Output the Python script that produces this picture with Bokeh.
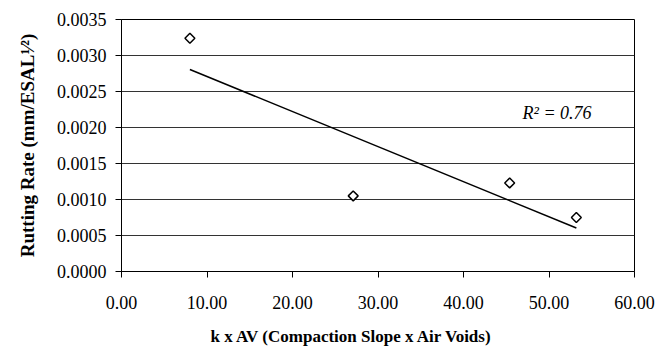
import numpy as np
from bokeh.plotting import figure
from bokeh.models import Range1d, Label, NumeralTickFormatter, FixedTicker, Title
from bokeh.embed import file_html
from bokeh.resources import INLINE

# Compaction slope x air voids vs. rutting rate
k_av = [8.0, 27.1, 45.4, 53.2]
rut_rate = [0.00324, 0.00105, 0.00123, 0.00075]

x_ticks = [0, 10, 20, 30, 40, 50, 60]
y_ticks = [0.0, 0.0005, 0.0010, 0.0015, 0.0020, 0.0025, 0.0030, 0.0035]

FONT = "Times New Roman"

p = figure(width=669, height=358, output_backend="svg", toolbar_location=None,
           x_range=Range1d(0, 60), y_range=Range1d(0, 0.0035),
           min_border_left=121, min_border_right=35, min_border_top=19,
           min_border_bottom=85)
p.outline_line_color = "black"
p.outline_line_width = 1

# axes
p.xaxis.ticker = FixedTicker(ticks=x_ticks)
p.yaxis.ticker = FixedTicker(ticks=y_ticks)
p.xaxis.formatter = NumeralTickFormatter(format="0.00")
p.yaxis.formatter = NumeralTickFormatter(format="0.0000")
for ax in (p.xaxis, p.yaxis):
    ax.axis_line_color = "black"
    ax.major_tick_line_color = "black"
    ax.major_tick_in = 0
    ax.major_tick_out = 6
    ax.minor_tick_line_color = None
    ax.major_label_text_font = FONT
    ax.major_label_text_font_size = "18px"
    ax.major_label_text_color = "black"
    ax.axis_label_text_font = FONT
    ax.axis_label_text_font_style = "bold"
    ax.axis_label_text_color = "black"

p.xaxis.major_label_standoff = 18
p.yaxis.major_label_standoff = 9
p.yaxis.axis_label = "Rutting Rate (mm/ESAL\u00b9\u2044\u00b2)"
p.yaxis.axis_label_text_font_size = "19px"
p.yaxis.axis_label_standoff = 16

# x-axis title, set slightly left of the frame centre
p.add_layout(Title(text="k x AV (Compaction Slope x Air Voids)", align="left",
                   offset=89, standoff=26, text_font=FONT, text_font_style="bold",
                   text_font_size="17px", text_color="black"), "below")

p.xgrid.grid_line_color = None
p.ygrid.grid_line_color = "#333333"
p.ygrid.grid_line_width = 1

# linear trend line over the data span
slope, intercept = np.polyfit(k_av, rut_rate, 1)
xs = np.array([min(k_av), max(k_av)])
p.line(xs, slope * xs + intercept, line_color="black", line_width=1.5)

# data points as open diamonds
p.scatter(k_av, rut_rate, marker="square", angle=np.pi / 4, size=7,
          fill_color="white", line_color="black", line_width=1.5)

p.add_layout(Label(x=46.9, y=0.0022, text="R\u00b2 = 0.76", text_font=FONT,
                   text_font_style="italic", text_font_size="18px",
                   text_color="black", text_baseline="middle"))

open("out.html", "w").write(file_html(p, INLINE))
